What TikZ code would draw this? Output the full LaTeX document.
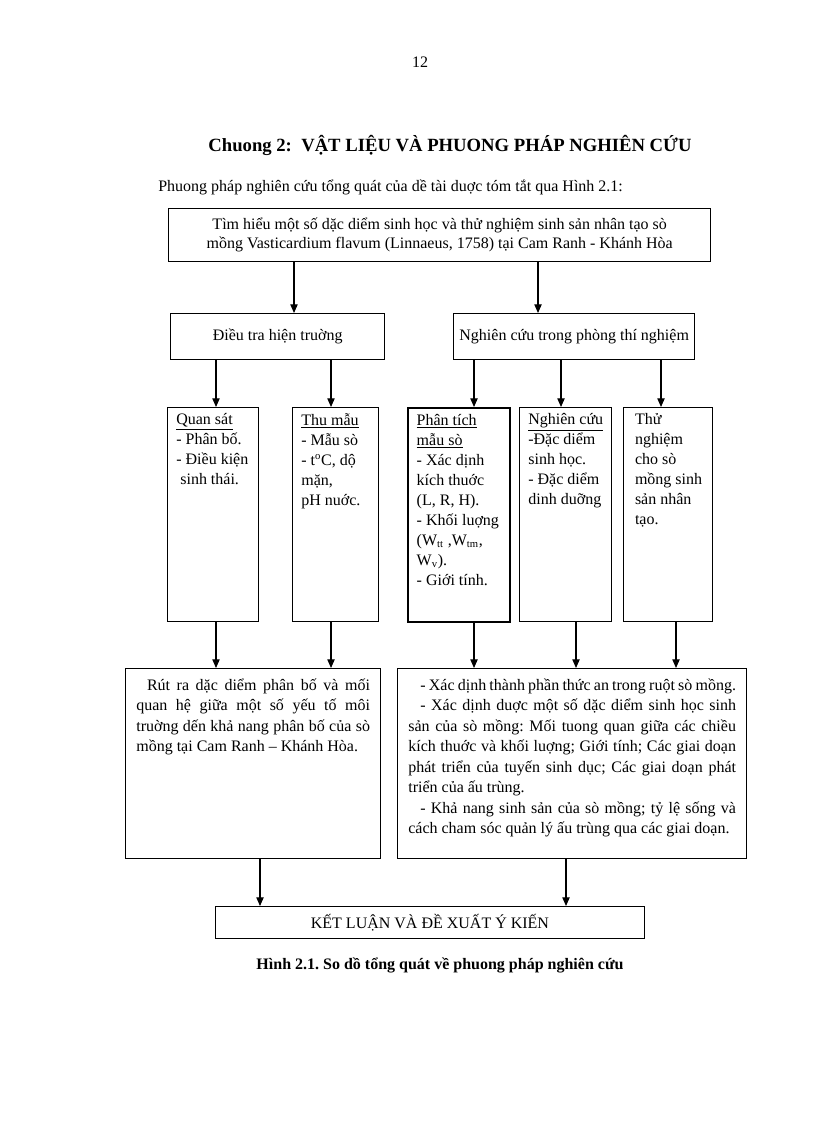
\documentclass[tikz,border=0pt]{standalone}
\usepackage{fontspec}
\setmainfont{Liberation Serif}
\usetikzlibrary{arrows.meta}
\frenchspacing

\tikzset{
  box/.style={draw, line width=1pt, anchor=north west, inner sep=0pt, align=center, font=\fontsize{12}{14.5}\selectfont},
  colbox/.style={draw, line width=1pt, anchor=north west, inner xsep=6.5pt, inner ysep=4.5pt, font=\fontsize{12}{15}\selectfont},
  bigbox/.style={draw, line width=1pt, anchor=north west, inner xsep=8pt, inner ysep=7.5pt, font=\fontsize{12}{15.4}\selectfont},
  arr/.style={-{Triangle[length=6.5pt,width=5.5pt]}, line width=0.8pt},
}

\begin{document}
\begin{tikzpicture}[x=0.75pt, y=-0.75pt]
    \useasboundingbox (0,0) rectangle (816,1123);

    % Tieu de
    \node[font=\fontsize{12}{14}\selectfont] (trang) at (420,62) {12};
    \node[font=\fontsize{14}{16}\selectfont\bfseries] (chuong) at (450,145) {Chuong 2:\ \ VẬT LIỆU VÀ PHUONG PHÁP NGHIÊN CỨU};
    \node[font=\fontsize{12}{14}\selectfont, anchor=west, inner sep=0pt] (mota) at (158,187) {Phuong pháp nghiên cứu tổng quát của dề tài duợc tóm tắt qua Hình 2.1:};

    % Hop tren cung
    \node[box, minimum width=406.5pt, minimum height=39.75pt] (muctieu) at (168,208)
        {Tìm hiểu một số dặc diểm sinh học và thử nghiệm sinh sản nhân tạo sò\\
         mồng Vasticardium flavum (Linnaeus, 1758) tại Cam Ranh - Khánh Hòa};

    % Hai huong nghien cuu
    \node[box, minimum width=160.5pt, minimum height=34.5pt] (dieutra) at (170,313) {Điều tra hiện truờng};
    \node[box, minimum width=180.75pt, minimum height=34.5pt] (phongtn) at (453,313) {Nghiên cứu trong phòng thí nghiệm};

    % Cac cot noi dung
    \node[colbox] (quansat) at (167,407) {\parbox[t][151.5pt][t]{55.25pt}{%
        \underline{Quan sát}\\- Phân bố.\\- Điều kiện\\\hspace*{3pt}sinh thái.}};
    \node[colbox] (thumau) at (292,407) {\parbox[t][151.5pt][t]{51.5pt}{%
        \underline{Thu mẫu}\\- Mẫu sò\\- t\textsuperscript{o}C, dộ\\mặn,\\pH nuớc.}};
    \node[colbox, line width=1.6pt] (phantich) at (407,407) {\parbox[t][151.5pt][t]{63.5pt}{%
        \underline{Phân tích}\\\underline{mẫu sò}\\- Xác dịnh\\kích thuớc\\(L, R, H).\\- Khối luợng\\(W\textsubscript{tt} ,W\textsubscript{tm},\\W\textsubscript{v}).\\- Giới tính.}};
    \node[colbox] (sinhhoc) at (519,407) {\parbox[t][151.5pt][t]{56pt}{%
        \underline{Nghiên cứu}\\-Đặc diểm\\sinh học.\\- Đặc diểm\\dinh duỡng}};
    \node[colbox] (thunghiem) at (623,407) {\parbox[t][151.5pt][t]{53.75pt}{\leftskip=2pt
        Thử\\nghiệm\\cho sò\\mồng sinh\\sản nhân\\tạo.}};

    % Ket qua
    \node[bigbox] (ketqua1) at (125,668) {\parbox[t][127.5pt][t]{175.25pt}{\parindent=8pt
        Rút ra dặc diểm phân bố và mối quan hệ giữa một số yếu tố môi truờng dến khả nang phân bố của sò mồng tại Cam Ranh – Khánh Hòa.}};
    \node[bigbox] (ketqua2) at (397,668) {\parbox[t][127.5pt][t]{245.75pt}{\parindent=9pt
        - Xác dịnh thành phần thức an trong ruột sò mồng.\par
        - Xác dịnh duợc một số dặc diểm sinh học sinh\linebreak sản của sò mồng: Mối tuong quan giữa các chiều\linebreak kích thuớc và khối luợng; Giới tính; Các giai doạn\linebreak phát triển của tuyến sinh dục; Các giai doạn phát\linebreak triển của ấu trùng.\par
        - Khả nang sinh sản của sò mồng; tỷ lệ sống và cách cham sóc quản lý ấu trùng qua các giai doạn.}};

    % Ket luan
    \node[box, line width=0.7pt, minimum width=321.75pt, minimum height=24pt] (ketluan) at (215,906) {KẾT LUẬN VÀ ĐỀ XUẤT Ý KIẾN};
    \node[font=\fontsize{12}{14}\selectfont\bfseries] (hinh) at (440,965) {Hình 2.1. So dồ tổng quát về phuong pháp nghiên cứu};

    % Mui ten
    \draw[arr] (muctieu.south -| 294,0) -- (dieutra.north -| 294,0);
    \draw[arr] (muctieu.south -| 538,0) -- (phongtn.north -| 538,0);
    \draw[arr] (dieutra.south -| 216,0) -- (quansat.north -| 216,0);
    \draw[arr] (dieutra.south -| 331,0) -- (thumau.north -| 331,0);
    \draw[arr] (phongtn.south -| 474,0) -- (phantich.north -| 474,0);
    \draw[arr] (phongtn.south -| 561,0) -- (sinhhoc.north -| 561,0);
    \draw[arr] (phongtn.south -| 661,0) -- (thunghiem.north -| 661,0);
    \draw[arr] (quansat.south -| 216,0) -- (ketqua1.north -| 216,0);
    \draw[arr] (thumau.south -| 331,0) -- (ketqua1.north -| 331,0);
    \draw[arr] (phantich.south -| 474,0) -- (ketqua2.north -| 474,0);
    \draw[arr] (sinhhoc.south -| 576,0) -- (ketqua2.north -| 576,0);
    \draw[arr] (thunghiem.south -| 676,0) -- (ketqua2.north -| 676,0);
    \draw[arr] (ketqua1.south -| 260,0) -- (ketluan.north -| 260,0);
    \draw[arr] (ketqua2.south -| 566,0) -- (ketluan.north -| 566,0);
\end{tikzpicture}
\end{document}
